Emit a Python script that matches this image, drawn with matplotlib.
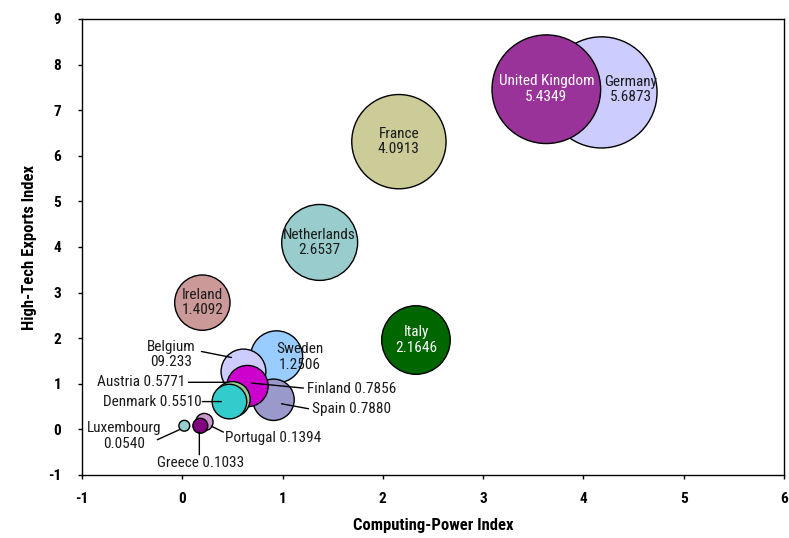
import matplotlib
matplotlib.use("Agg")
import matplotlib.pyplot as plt
from matplotlib import font_manager as fm
from matplotlib.transforms import offset_copy

# ---- data (drawing order: back to front) ----
countries = ["Germany", "United Kingdom", "France", "Netherlands", "Ireland", "Italy",
             "Sweden", "Belgium", "Spain", "Finland", "Austria", "Denmark",
             "Portugal", "Greece", "Luxembourg"]
computing_power = [4.18, 3.63, 2.16, 1.37, 0.20, 2.33,
                   0.94, 0.61, 0.91, 0.65, 0.50, 0.47,
                   0.22, 0.18, 0.02]
high_tech_exports = [7.39, 7.46, 6.31, 4.10, 2.78, 1.96,
                     1.59, 1.27, 0.65, 0.95, 0.66, 0.61,
                     0.16, 0.08, 0.08]
bubble_values = [5.6873, 5.4349, 4.0913, 2.6537, 1.4092, 2.1646,
                 1.2506, 0.9233, 0.7880, 0.7856, 0.5771, 0.5510,
                 0.1394, 0.1033, 0.0540]
value_labels = ["5.6873", "5.4349", "4.0913", "2.6537", "1.4092", "2.1646",
                "1.2506", "09.233", "0.7880", "0.7856", "0.5771", "0.5510",
                "0.1394", "0.1033", "0.0540"]
x_ticks = [-1, 0, 1, 2, 3, 4, 5, 6]
y_ticks = [-1, 0, 1, 2, 3, 4, 5, 6, 7, 8, 9]

colors = ["#CCCCFF", "#993399", "#CCCC99", "#99CCCC", "#CC9999", "#006600",
          "#99CCFF", "#CCCCFF", "#9999CC", "#CC00CC", "#99CC99", "#33CCCC",
          "#CC99CC", "#800080", "#99CCCC"]

# ---- font ----
available = {f.name for f in fm.fontManager.ttflist}
family = "DejaVu Sans"
for cand in ["Liberation Sans Narrow", "Roboto Condensed", "Open Sans Condensed",
             "Liberation Sans"]:
    if cand in available:
        family = cand
        break
plt.rcParams["font.family"] = [family, "DejaVu Sans"]

fig = plt.figure(figsize=(7.89, 5.38), dpi=100)
ax = fig.add_axes([82 / 789, 1 - 475 / 538, 702 / 789, 456 / 538])

ax.set_xlim(-1, 6)
ax.set_ylim(-1, 9)

# bubble area proportional to value
size_scale = 1126
ax.scatter(computing_power, high_tech_exports,
           s=[v * size_scale for v in bubble_values],
           c=colors, edgecolors="black", linewidths=1.0, zorder=3)

# ---- labels ----
# (text offset px right/down, ha, leader line start, leader line end) relative to bubble centre
label_layout = {
    "Germany": ((29, -3), "center", None),
    "Sweden": ((23, 0), "center", None),
    "Belgium": ((-72, -17), "center", ((-42, -20), (-12, -14))),
    "Austria": ((-47, -17), "right", ((-44, -17), (-5, -17))),
    "Denmark": ((-28, 0), "right", ((-27, 0), (-8, 0))),
    "Finland": ((60, 3), "left", ((4, -3), (56, 2))),
    "Spain": ((38, 9), "left", ((8, 4), (35, 9))),
    "Luxembourg": ((-60, 10), "center", ((-27, 14), (-5, 4))),
    "Greece": ((0, 37), "center", ((-1, 6), (-1, 29))),
    "Portugal": ((21, 16), "left", ((7, 4), (19, 10))),
}
two_line = {"Germany", "United Kingdom", "France", "Netherlands", "Ireland", "Italy",
            "Sweden", "Belgium", "Luxembourg"}
white_text = {"United Kingdom", "Italy"}

fs = 11
for name, x, y, lab in zip(countries, computing_power, high_tech_exports, value_labels):
    text = f"{name}\n{lab}" if name in two_line else f"{name} {lab}"
    (dx, dy), ha, line = label_layout.get(name, ((0, 0), "center", None))
    tr = offset_copy(ax.transData, fig=fig, x=dx, y=-dy, units="dots")
    ax.text(x, y, text, transform=tr, ha=ha, va="center", fontsize=fs,
            color="white" if name in white_text else "#1a1a1a",
            linespacing=1.15, zorder=5)
    if line is not None:
        (x0, y0), (x1, y1) = line
        ax.annotate("", xy=(x, y), xytext=(x, y),
                    xycoords=offset_copy(ax.transData, fig=fig, x=x1, y=-y1, units="dots"),
                    textcoords=offset_copy(ax.transData, fig=fig, x=x0, y=-y0, units="dots"),
                    arrowprops=dict(arrowstyle="-", color="black", lw=1.0,
                                    shrinkA=0, shrinkB=0),
                    zorder=6)

# ---- axes styling ----
ax.set_xticks(x_ticks)
ax.set_yticks(y_ticks)
ax.set_xticklabels([str(t) for t in x_ticks], fontweight="bold", fontsize=11)
ax.set_yticklabels([str(t) for t in y_ticks], fontweight="bold", fontsize=11)
ax.tick_params(axis="both", direction="out", length=3, width=1, colors="black")
ax.tick_params(axis="x", pad=9)
ax.tick_params(axis="y", pad=12)
for sp in ax.spines.values():
    sp.set_linewidth(1.0)
    sp.set_color("black")

ax.set_xlabel("Computing-Power Index", fontweight="bold", fontsize=12, labelpad=9)
ax.set_ylabel("High-Tech Exports Index", fontweight="bold", fontsize=12, labelpad=8)

fig.savefig("out.png", dpi=100)
